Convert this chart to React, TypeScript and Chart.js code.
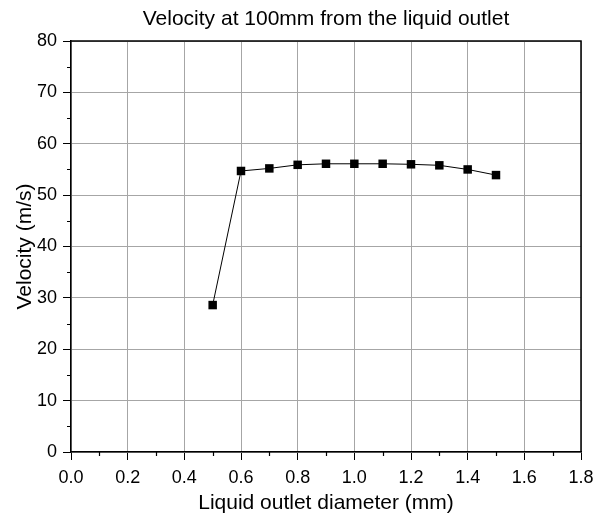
import React, { useEffect, useRef } from "react";
import { Chart, registerables } from "chart.js";

Chart.register(...registerables);

const diameters = [0.5, 0.6, 0.7, 0.8, 0.9, 1.0, 1.1, 1.2, 1.3, 1.4, 1.5];
const velocities = [28.6, 54.7, 55.2, 55.9, 56.1, 56.1, 56.1, 56.0, 55.8, 55.0, 53.9];

const titleText = "Velocity at 100mm from the liquid outlet";
const xTitle = "Liquid outlet diameter (mm)";
const yTitle = "Velocity (m/s)";

const FONT = "'Liberation Sans', Arial, sans-serif";

const framePlugin = {
  id: "frameMinor",
  afterDraw(chart: any) {
    const { ctx, chartArea, scales } = chart;
    const { left, right, top, bottom } = chartArea;
    ctx.save();
    ctx.strokeStyle = "#000";
    ctx.lineWidth = 1.5;
    ctx.beginPath();
    ctx.moveTo(left, top);
    ctx.lineTo(right, top);
    ctx.lineTo(right, bottom);
    ctx.stroke();
    ctx.lineWidth = 1.2;
    ctx.beginPath();
    const xs = scales.x;
    for (let v = 0.1; v < 1.8; v += 0.2) {
      const px = Math.round(xs.getPixelForValue(v)) + 0.5;
      ctx.moveTo(px, bottom);
      ctx.lineTo(px, bottom + 4);
    }
    const ys = scales.y;
    for (let v = 5; v < 80; v += 10) {
      const py = Math.round(ys.getPixelForValue(v)) + 0.5;
      ctx.moveTo(left, py);
      ctx.lineTo(left - 4, py);
    }
    ctx.stroke();
    // chart title, centred over the plot area
    ctx.fillStyle = "#000";
    ctx.font = `21px ${FONT}`;
    ctx.textAlign = "center";
    ctx.textBaseline = "alphabetic";
    ctx.fillText(titleText, (left + right) / 2, 25);
    ctx.restore();
  },
};

export default function App() {
  const ref = useRef<HTMLCanvasElement | null>(null);
  useEffect(() => {
    if (!ref.current) return;
    const chart = new Chart(ref.current, {
      type: "line",
      data: {
        datasets: [
          {
            data: diameters.map((d, i) => ({ x: d, y: velocities[i] })),
            borderColor: "#000",
            backgroundColor: "#000",
            borderWidth: 1,
            pointStyle: "rect",
            pointRadius: 6,
            pointBorderWidth: 0,
            pointBackgroundColor: "#000",
            tension: 0,
          },
        ],
      },
      options: {
        animation: false,
        responsive: true,
        maintainAspectRatio: false,
        layout: { padding: { right: 25, top: 41, left: 0, bottom: 0 } },
        plugins: {
          legend: { display: false },
          tooltip: { enabled: false },
          title: { display: false },
        },
        scales: {
          x: {
            type: "linear",
            min: 0,
            max: 1.8,
            afterFit: (s: any) => {
              s.height = 68;
            },
            ticks: {
              stepSize: 0.2,
              color: "#000",
              font: { family: FONT, size: 18 },
              padding: 7,
              callback: (v: any) => Number(v).toFixed(1),
            },
            grid: {
              color: "#a6a6a6",
              tickColor: "#000",
              tickLength: 8,
              lineWidth: 1,
            },
            border: { color: "#000", width: 1.5 },
            title: {
              display: true,
              text: xTitle,
              color: "#000",
              font: { family: FONT, size: 21 },
              padding: { top: 0, bottom: 4 },
            },
          },
          y: {
            min: 0,
            max: 80,
            afterFit: (s: any) => {
              s.width = 71;
            },
            ticks: {
              stepSize: 10,
              color: "#000",
              font: { family: FONT, size: 18 },
              padding: 6,
            },
            grid: {
              color: "#a6a6a6",
              tickColor: "#000",
              tickLength: 8,
              lineWidth: 1,
            },
            border: { color: "#000", width: 1.5 },
            title: {
              display: true,
              text: yTitle,
              color: "#000",
              font: { family: FONT, size: 21 },
              padding: { top: 13, bottom: 0 },
            },
          },
        },
      },
      plugins: [framePlugin],
    } as any);
    return () => chart.destroy();
  }, []);
  return (
    <div style={{ position: "fixed", left: 0, top: 0, width: 606, height: 520, background: "#fff" }}>
      <canvas ref={ref} />
    </div>
  );
}
